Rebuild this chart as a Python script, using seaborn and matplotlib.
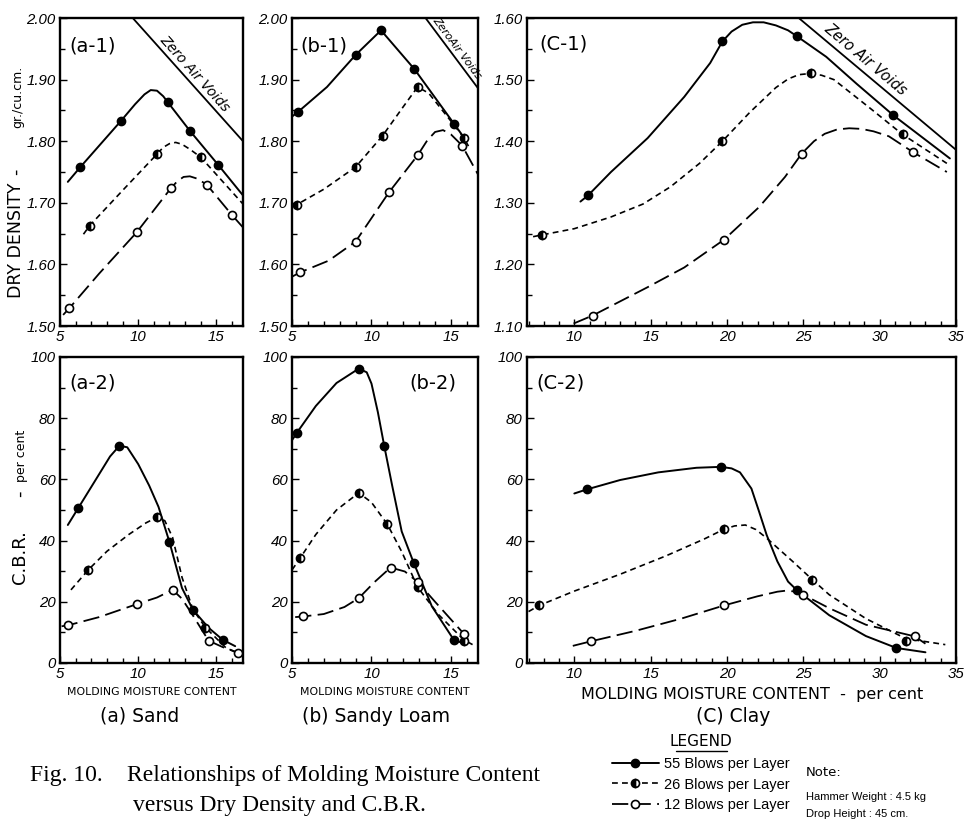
import numpy as np
import pandas as pd
import matplotlib
matplotlib.use("Agg")
import matplotlib.pyplot as plt
import seaborn as sns
from matplotlib.lines import Line2D
from matplotlib.ticker import MultipleLocator

# ---------------- data ----------------
# (a-1) Sand, dry density
A1_X55 = [6.3, 8.9, 11.9, 13.3, 15.1]
A1_Y55 = [1.758, 1.833, 1.863, 1.817, 1.762]
A1_CX55 = [5.5, 6.3, 8.9, 9.8, 10.4, 10.8, 11.2, 11.6, 11.9, 13.3, 15.1, 16.7]
A1_CY55 = [1.734, 1.758, 1.833, 1.860, 1.876, 1.883, 1.882, 1.873, 1.863, 1.817, 1.762, 1.712]
A1_X26 = [6.9, 11.2, 14.0]
A1_Y26 = [1.663, 1.779, 1.774]
A1_CX26 = [6.5, 6.9, 9.0, 11.2, 11.6, 12.0, 12.4, 12.8, 13.3, 14.0, 16.7]
A1_CY26 = [1.649, 1.663, 1.720, 1.779, 1.790, 1.796, 1.798, 1.795, 1.787, 1.774, 1.698]
A1_X12 = [5.6, 9.9, 12.1, 14.4, 16.0]
A1_Y12 = [1.529, 1.652, 1.724, 1.729, 1.680]
A1_CX12 = [5.2, 5.6, 7.5, 9.9, 12.1, 12.5, 12.9, 13.3, 13.8, 14.4, 16.0, 16.7]
A1_CY12 = [1.518, 1.529, 1.585, 1.652, 1.724, 1.735, 1.742, 1.743, 1.739, 1.729, 1.680, 1.660]
A1_ZX = [9.65, 16.7]
A1_ZY = [2.00, 1.80]

# (b-1) Sandy loam, dry density
B1_X55 = [5.4, 9.0, 10.6, 12.7, 15.2]
B1_Y55 = [1.848, 1.940, 1.980, 1.917, 1.828]
B1_CX55 = [5.0, 5.4, 7.2, 9.0, 10.6, 12.7, 15.2, 15.9]
B1_CY55 = [1.840, 1.848, 1.888, 1.940, 1.980, 1.917, 1.828, 1.803]
B1_X26 = [5.3, 9.0, 10.7, 12.9, 15.8]
B1_Y26 = [1.697, 1.758, 1.809, 1.888, 1.806]
B1_CX26 = [5.0, 5.3, 7.0, 9.0, 10.7, 12.0, 12.9, 13.6, 15.2, 15.8, 16.1]
B1_CY26 = [1.695, 1.697, 1.722, 1.758, 1.809, 1.856, 1.888, 1.878, 1.826, 1.806, 1.792]
B1_X12 = [5.5, 9.0, 11.1, 12.9, 15.7]
B1_Y12 = [1.587, 1.637, 1.717, 1.777, 1.793]
B1_CX12 = [5.0, 5.5, 7.3, 9.0, 11.1, 12.9, 13.5, 14.0, 14.5, 15.0, 15.7, 16.7]
B1_CY12 = [1.580, 1.587, 1.606, 1.637, 1.717, 1.777, 1.801, 1.815, 1.818, 1.811, 1.793, 1.746]
B1_ZX = [13.4, 16.7]
B1_ZY = [2.00, 1.886]

# (C-1) Clay, dry density
C1_X55 = [10.9, 19.7, 24.6, 30.9]
C1_Y55 = [1.312, 1.562, 1.570, 1.442]
C1_CX55 = [10.4, 10.9, 12.4, 14.8, 17.2, 18.9, 19.7, 20.3, 21.0, 21.7, 22.4, 23.2, 24.0, 24.6, 26.5, 28.5, 30.9, 34.6]
C1_CY55 = [1.302, 1.312, 1.350, 1.405, 1.472, 1.527, 1.562, 1.578, 1.589, 1.593, 1.593, 1.588, 1.580, 1.570, 1.537, 1.493, 1.442, 1.372]
C1_X26 = [7.9, 19.7, 25.5, 31.5]
C1_Y26 = [1.248, 1.400, 1.510, 1.411]
C1_CX26 = [7.3, 7.9, 10.0, 12.4, 14.5, 16.3, 18.2, 19.7, 21.5, 23.2, 24.0, 24.7, 25.5, 26.2, 27.0, 29.3, 31.5, 34.4]
C1_CY26 = [1.245, 1.248, 1.258, 1.277, 1.298, 1.326, 1.364, 1.400, 1.447, 1.487, 1.501, 1.508, 1.510, 1.507, 1.500, 1.455, 1.411, 1.364]
C1_X12 = [11.2, 19.8, 24.9, 32.2]
C1_Y12 = [1.117, 1.240, 1.380, 1.382]
C1_CX12 = [9.95, 11.2, 13.0, 14.8, 17.2, 19.8, 22.1, 23.8, 24.9, 25.7, 26.4, 27.2, 28.0, 28.8, 29.6, 30.6, 32.2, 34.4]
C1_CY12 = [1.104, 1.117, 1.140, 1.163, 1.195, 1.240, 1.293, 1.342, 1.380, 1.400, 1.412, 1.419, 1.421, 1.420, 1.416, 1.408, 1.382, 1.350]
C1_ZX = [24.7, 35.0]
C1_ZY = [1.60, 1.386]

# (a-2) Sand, CBR
A2_X55 = [6.15, 8.8, 12.0, 13.5, 15.4]
A2_Y55 = [50.5, 71.0, 39.5, 17.4, 7.6]
A2_CX55 = [5.5, 6.15, 7.2, 8.2, 8.8, 9.3, 10.0, 10.7, 11.3, 12.0, 12.8, 13.5, 14.5, 15.4, 16.2]
A2_CY55 = [45.1, 50.5, 59.2, 67.5, 71.0, 70.5, 65.0, 58.0, 51.0, 39.5, 24.5, 17.4, 11.5, 7.6, 5.5]
A2_X26 = [6.8, 11.2, 14.3]
A2_Y26 = [30.4, 47.6, 11.6]
A2_CX26 = [5.7, 6.8, 8.0, 9.4, 10.5, 11.2, 11.7, 12.2, 12.8, 13.5, 14.3, 15.6, 16.7]
A2_CY26 = [23.9, 30.4, 36.5, 42.0, 45.8, 47.6, 46.5, 41.0, 28.0, 17.5, 11.6, 5.0, 2.5]
A2_X12 = [5.5, 9.95, 12.2, 14.5, 16.4]
A2_Y12 = [12.3, 19.3, 23.9, 7.3, 3.3]
A2_CX12 = [5.1, 5.5, 7.5, 9.95, 11.2, 12.2, 12.8, 13.5, 14.5, 15.4, 16.4, 16.7]
A2_CY12 = [12.0, 12.3, 15.0, 19.3, 21.4, 23.9, 21.0, 15.5, 7.3, 5.2, 3.3, 3.0]

# (b-2) Sandy loam, CBR
B2_X55 = [5.3, 9.2, 10.8, 12.65, 15.2]
B2_Y55 = [75.2, 96.2, 71.0, 32.8, 7.4]
B2_CX55 = [5.0, 5.3, 6.5, 7.8, 9.2, 9.7, 10.0, 10.4, 10.8, 11.3, 11.9, 12.65, 13.8, 15.2, 15.8]
B2_CY55 = [72.8, 75.2, 84.0, 91.5, 96.2, 95.0, 91.3, 82.0, 71.0, 58.0, 43.0, 32.8, 18.5, 7.4, 6.5]
B2_X26 = [5.5, 9.2, 11.0, 12.9, 15.8]
B2_Y26 = [34.2, 55.6, 45.3, 24.8, 7.1]
B2_CX26 = [5.0, 5.5, 6.5, 7.8, 9.2, 10.0, 11.0, 11.9, 12.9, 14.2, 15.8, 16.5]
B2_CY26 = [30.4, 34.2, 42.0, 50.0, 55.6, 52.5, 45.3, 36.4, 24.8, 15.9, 7.6, 5.6]
B2_X12 = [5.7, 9.2, 11.2, 12.9, 15.8]
B2_Y12 = [15.2, 21.2, 31.2, 26.6, 9.6]
B2_CX12 = [5.2, 5.7, 7.0, 8.3, 9.2, 10.2, 11.2, 12.1, 12.9, 14.0, 15.8, 16.3]
B2_CY12 = [15.0, 15.2, 16.0, 18.3, 21.2, 26.5, 31.2, 29.9, 26.5, 20.0, 9.6, 6.0]

# (C-2) Clay, CBR
C2_X55 = [10.8, 19.6, 24.6, 31.1]
C2_Y55 = [56.7, 64.1, 23.7, 4.9]
C2_CX55 = [10.0, 10.8, 13.0, 15.5, 18.0, 19.6, 20.3, 20.85, 21.6, 22.1, 22.6, 23.3, 24.0, 24.6, 26.7, 29.1, 31.1, 33.0]
C2_CY55 = [55.4, 56.7, 59.8, 62.3, 63.8, 64.1, 63.6, 62.3, 57.0, 49.5, 41.8, 33.2, 26.6, 23.7, 15.6, 8.8, 4.9, 3.5]
C2_X26 = [7.7, 19.8, 25.6, 31.7]
C2_Y26 = [18.8, 43.7, 27.2, 7.3]
C2_CX26 = [7.0, 7.7, 10.0, 13.0, 16.0, 18.5, 19.8, 20.5, 21.2, 21.9, 22.6, 24.3, 25.6, 26.7, 29.1, 31.7, 34.3]
C2_CY26 = [16.8, 18.8, 23.5, 29.0, 35.0, 40.5, 43.7, 44.8, 45.1, 43.6, 40.8, 33.2, 27.2, 22.3, 14.5, 8.0, 6.0]
C2_X12 = [11.1, 19.8, 25.0, 32.3]
C2_Y12 = [7.1, 18.8, 22.3, 8.7]
C2_CX12 = [9.9, 11.1, 14.0, 17.0, 19.8, 22.0, 23.3, 23.8, 24.4, 25.0, 26.7, 29.1, 32.3, 33.0]
C2_CY12 = [5.6, 7.1, 10.5, 14.5, 18.8, 21.8, 23.3, 23.6, 23.4, 22.3, 17.9, 12.5, 8.7, 6.3]

# tick labels
DENS_TICKS_AB = [1.50, 1.60, 1.70, 1.80, 1.90, 2.00]
DENS_TICKS_C = [1.10, 1.20, 1.30, 1.40, 1.50, 1.60]
CBR_TICKS = [0, 20, 40, 60, 80, 100]
X_TICKS_AB = [5, 10, 15]
X_TICKS_C = [10, 15, 20, 25, 30, 35]
BLOWS = [55, 26, 12]
LEGEND_LABELS = ["55 Blows per Layer", "26 Blows per Layer", "12 Blows per Layer"]

# ---------------- build long table ----------------
g = globals()
records = []
for pan in ["A1", "B1", "C1", "A2", "B2", "C2"]:
    for b in BLOWS:
        for kind, xs, ys in [("pt", g[f"{pan}_X{b}"], g[f"{pan}_Y{b}"]),
                             ("curve", g[f"{pan}_CX{b}"], g[f"{pan}_CY{b}"])]:
            for i, (x, y) in enumerate(zip(xs, ys)):
                records.append(dict(panel=pan, blows=b, kind=kind, x=x, y=y, order=i))
df = pd.DataFrame(records)

# ---------------- figure ----------------
sns.set_theme(style="white")
plt.rcParams["font.family"] = ["DejaVu Sans"]
plt.rcParams["axes.linewidth"] = 1.7
plt.rcParams["text.color"] = "black"
plt.rcParams["axes.labelcolor"] = "black"
plt.rcParams["xtick.color"] = "black"
plt.rcParams["ytick.color"] = "black"
NARROW = ["Liberation Sans Narrow", "Liberation Sans", "DejaVu Sans"]

fig = plt.figure(figsize=(9.7, 8.27), dpi=100)
fig.patch.set_facecolor("white")


def rect(l, r, t, b):
    return [l / 970, 1 - b / 827, (r - l) / 970, (b - t) / 827]


TOP, BOT = (18, 326), (357, 663)
COLS = {"A": (60, 243), "B": (292, 478), "C": (527, 956)}

LINE = {55: dict(linestyle="-", lw=1.4),
        26: dict(linestyle=(0, (3.5, 2.5)), lw=1.2),
        12: dict(linestyle=(0, (9, 3.5)), lw=1.3)}
MARK = {55: dict(marker="o", ms=6.0, mfc="black", mec="black", mew=1.0),
        26: dict(marker="o", ms=5.8, fillstyle="left", mfc="black",
                 markerfacecoloralt="white", mec="black", mew=1.2),
        12: dict(marker="o", ms=5.8, mfc="white", mec="black", mew=1.2)}

panel_cfg = {
    "A1": dict(col="A", row=TOP, xlim=(5, 16.7), ylim=(1.50, 2.00), label="(a-1)", lpos=(5.6, 1.955)),
    "B1": dict(col="B", row=TOP, xlim=(5, 16.7), ylim=(1.50, 2.00), label="(b-1)", lpos=(5.5, 1.955)),
    "C1": dict(col="C", row=TOP, xlim=(6.9, 35), ylim=(1.10, 1.60), label="(C-1)", lpos=(7.7, 1.557)),
    "A2": dict(col="A", row=BOT, xlim=(5, 16.7), ylim=(0, 100), label="(a-2)", lpos=(5.6, 91.5)),
    "B2": dict(col="B", row=BOT, xlim=(5, 16.7), ylim=(0, 100), label="(b-2)", lpos=(12.4, 91.5)),
    "C2": dict(col="C", row=BOT, xlim=(6.9, 35), ylim=(0, 100), label="(C-2)", lpos=(7.5, 91.5)),
}

axes = {}
for pan, cfg in panel_cfg.items():
    l, r = COLS[cfg["col"]]
    t, b = cfg["row"]
    ax = fig.add_axes(rect(l, r, t, b))
    axes[pan] = ax
    sub = df[df.panel == pan]
    for bl in BLOWS:
        cur = sub[(sub.blows == bl) & (sub.kind == "curve")].sort_values("order")
        sns.lineplot(data=cur, x="x", y="y", ax=ax, sort=False, estimator=None,
                     color="black", **LINE[bl])
        pts = sub[(sub.blows == bl) & (sub.kind == "pt")].sort_values("order")
        sns.lineplot(data=pts, x="x", y="y", ax=ax, sort=False, estimator=None,
                     color="black", linestyle="none", zorder=5, **MARK[bl])
    ax.set_xlim(*cfg["xlim"])
    ax.set_ylim(*cfg["ylim"])
    ax.set_xlabel("")
    ax.set_ylabel("")
    for s in ax.spines.values():
        s.set_color("black")
        s.set_linewidth(1.7)
    ax.set_facecolor("white")
    if cfg["col"] == "C":
        ax.set_xticks(X_TICKS_C)
        ax.set_xticklabels([str(v) for v in X_TICKS_C])
    else:
        ax.set_xticks(X_TICKS_AB)
        ax.set_xticklabels([str(v) for v in X_TICKS_AB])
    ax.xaxis.set_minor_locator(MultipleLocator(1))
    if cfg["row"] == TOP:
        yt = DENS_TICKS_C if cfg["col"] == "C" else DENS_TICKS_AB
        ax.set_yticks(yt)
        ax.set_yticklabels([f"{v:.2f}" for v in yt])
        ax.yaxis.set_minor_locator(MultipleLocator(0.05))
    else:
        ax.set_yticks(CBR_TICKS)
        ax.set_yticklabels([str(v) for v in CBR_TICKS])
        ax.yaxis.set_minor_locator(MultipleLocator(10))
    ax.tick_params(which="both", direction="in", left=True, bottom=True,
                   top=False, right=False, color="black", width=1.0)
    ax.tick_params(which="major", length=5, labelsize=10.8, pad=3)
    ax.tick_params(which="minor", length=3.5)
    for lab in ax.get_xticklabels() + ax.get_yticklabels():
        lab.set_fontstyle("italic")
        lab.set_family(NARROW)
        lab.set_color("black")
    ax.text(*cfg["lpos"], cfg["label"], fontsize=14, ha="left", va="center",
            color="black")

# zero air voids lines
for pan, zx, zy, xm, fs, txt, off in [("A1", A1_ZX, A1_ZY, 13.2, 10, "Zero Air Voids", 9),
                                      ("B1", B1_ZX, B1_ZY, 15.0, 8, "ZeroAir Voids", 7),
                                      ("C1", C1_ZX, C1_ZY, 28.6, 10.5, "Zero Air Voids", 11)]:
    ax = axes[pan]
    ax.plot(zx, zy, color="black", lw=1.3)
    p0 = ax.transData.transform((zx[0], zy[0]))
    p1 = ax.transData.transform((zx[-1], zy[-1]))
    d = p1 - p0
    ang = np.degrees(np.arctan2(d[1], d[0]))
    n = np.array([-d[1], d[0]]) / np.hypot(*d)
    if n[1] < 0:
        n = -n
    ym = np.interp(xm, zx, zy)
    ax.annotate(txt, xy=(xm, ym), xytext=(n[0] * off, n[1] * off),
                textcoords="offset pixels", rotation=ang, ha="center", va="center",
                fontsize=fs, fontstyle="italic", rotation_mode="anchor", color="black")

# y labels
fig.text(16 / 970, 1 - 240 / 827, "DRY DENSITY", rotation=90, fontsize=12.5,
         ha="center", va="center")
fig.text(16 / 970, 1 - 172 / 827, "-", rotation=90, fontsize=12.5, ha="center", va="center")
fig.text(18 / 970, 1 - 97 / 827, "gr./cu.cm.", rotation=90, fontsize=9,
         ha="center", va="center")
fig.text(20 / 970, 1 - 557 / 827, "C.B.R.", rotation=90, fontsize=13,
         ha="center", va="center")
fig.text(20 / 970, 1 - 494 / 827, "-", rotation=90, fontsize=13, ha="center", va="center")
fig.text(22 / 970, 1 - 456 / 827, "per cent", rotation=90, fontsize=9,
         ha="center", va="center")

# x labels and sub titles
fig.text(152 / 970, 1 - 692 / 827, "MOLDING MOISTURE CONTENT", fontsize=7.8,
         ha="center", va="center")
fig.text(385 / 970, 1 - 692 / 827, "MOLDING MOISTURE CONTENT", fontsize=7.8,
         ha="center", va="center")
fig.text(752 / 970, 1 - 695 / 827, "MOLDING MOISTURE CONTENT  -  per cent",
         fontsize=11.5, ha="center", va="center")
fig.text(140 / 970, 1 - 716 / 827, "(a) Sand", fontsize=13.5, ha="center", va="center")
fig.text(376 / 970, 1 - 716 / 827, "(b) Sandy Loam", fontsize=13.5, ha="center", va="center")
fig.text(733 / 970, 1 - 716 / 827, "(C) Clay", fontsize=13.5, ha="center", va="center")

# caption
SERIF = ["Liberation Serif", "DejaVu Serif"]
fig.text(30 / 970, 1 - 775 / 827, "Fig. 10.", fontsize=17, family=SERIF,
         ha="left", va="center")
fig.text(127 / 970, 1 - 775 / 827, "Relationships of Molding Moisture Content",
         fontsize=17, family=SERIF, ha="left", va="center")
fig.text(133 / 970, 1 - 805 / 827, "versus Dry Density and C.B.R.",
         fontsize=17, family=SERIF, ha="left", va="center")

# legend
fig.text(701 / 970, 1 - 742 / 827, "LEGEND", fontsize=11, ha="center", va="center")
fig.add_artist(Line2D([676 / 970, 727 / 970], [1 - 751 / 827, 1 - 751 / 827],
                      color="black", lw=1.0, transform=fig.transFigure))
handles = []
for bl in BLOWS:
    kw = dict(LINE[bl])
    kw.update(MARK[bl])
    handles.append(Line2D([], [], color="black", **kw))
leg = fig.legend(handles, LEGEND_LABELS, loc="upper left",
                 bbox_to_anchor=(612 / 970, 1 - 757 / 827), frameon=False,
                 handlelength=3.2, labelspacing=0.45, handletextpad=0.4,
                 borderaxespad=0, borderpad=0,
                 prop=dict(family=NARROW, size=10.5))
for t in leg.get_texts():
    t.set_color("black")

fig.text(806 / 970, 1 - 773 / 827, "Note:", fontsize=9.5, ha="left", va="center")
fig.text(806 / 970, 1 - 797 / 827, "Hammer Weight : 4.5 kg", fontsize=8,
         family=NARROW, ha="left", va="center")
fig.text(806 / 970, 1 - 814 / 827, "Drop Height : 45 cm.", fontsize=8,
         family=NARROW, ha="left", va="center")

fig.savefig("out.png", dpi=100, facecolor="white")
